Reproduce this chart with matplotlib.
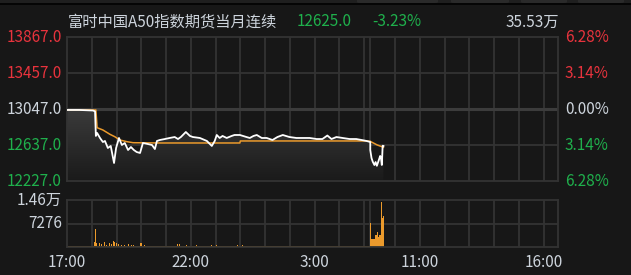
"""
FTSE China A50 futures - intraday tick chart (night + day session)
Dark terminal style: price / average line on top, volume below.
"""

import matplotlib
matplotlib.use('Agg')
import matplotlib.pyplot as plt
import numpy as np
from matplotlib.colors import LinearSegmentedColormap
from matplotlib.patches import Rectangle, FancyBboxPatch

plt.rcParams['font.family'] = ['Noto Sans CJK SC', 'DejaVu Sans']
plt.rcParams['font.size'] = 11

# ============================================================================
# Data
# ============================================================================

title = '富时中国A50指数期货当月连续'
last_price = '12625.0'
last_change = '-3.23%'
total_volume = '35.53万'

prev_close = 13047
price_levels = [13867, 13457, 13047, 12637, 12227]
pct_labels = ['6.28%', '3.14%', '0.00%', '3.14%', '6.28%']

vol_levels = [14552, 7276]
vol_labels = ['1.46万', '7276']

time_ticks = ['17:00', '22:00', '03:00', '11:00', '16:00']

price_times = ['17:00', '17:30', '18:03', '18:08', '18:10', '18:13', '18:20', '18:27',
               '18:32', '18:39', '18:46', '18:54', '18:59', '19:06', '19:13', '19:20',
               '19:28', '19:35', '19:42', '19:49', '19:57', '20:04', '20:16', '20:26',
               '20:33', '20:38', '20:45', '20:57', '21:09', '21:21', '21:29', '21:36',
               '21:48', '21:58', '22:05', '22:22', '22:39', '22:51', '22:58', '23:03',
               '23:10', '23:17', '23:27', '23:39', '23:46', '23:59', '00:15', '00:23',
               '00:32', '00:40', '00:52', '01:04', '01:18', '01:30', '01:43', '01:59',
               '02:16', '02:31', '02:48', '03:05', '03:19', '03:31', '03:41', '03:53',
               '04:08', '04:25', '04:41', '04:54', '05:06', '05:15',
               '09:00', '09:03', '09:06', '09:10', '09:13', '09:16', '09:20', '09:24',
               '09:26', '09:28', '09:30', '09:32']
price_values = [13036, 13036, 13030, 13020, 12740, 12774, 12717, 12671,
                12683, 12603, 12626, 12432, 12603, 12717, 12637, 12660,
                12580, 12614, 12580, 12557, 12546, 12660, 12648, 12637,
                12591, 12683, 12694, 12705, 12717, 12728, 12705, 12728,
                12785, 12740, 12728, 12717, 12683, 12626, 12683, 12751,
                12717, 12740, 12717, 12740, 12751, 12751, 12728, 12717,
                12740, 12751, 12717, 12717, 12694, 12728, 12751, 12728,
                12717, 12717, 12717, 12705, 12705, 12745, 12705, 12728,
                12717, 12705, 12705, 12694, 12683, 12671,
                12580, 12489, 12447, 12409, 12443, 12400, 12455, 12512,
                12489, 12409, 12629, 12625]

avg_times = ['17:00', '18:10', '18:13', '18:27', '18:44', '18:56', '19:08', '19:25',
             '19:40', '20:45', '23:59', '00:00', '05:06', '05:15', '09:00', '09:17', '09:32']
avg_values = [13036, 13036, 12834, 12808, 12759, 12731, 12694, 12675,
              12663, 12660, 12660, 12683, 12683, 12680, 12678, 12637, 12611]

# night session volume spikes
night_vol_times = ['18:06', '18:09', '18:12', '18:18', '18:24', '18:30', '18:36', '18:42',
                   '18:48', '18:52', '18:56', '19:00', '19:06', '19:12', '19:20', '19:28',
                   '19:36', '19:40', '19:58', '20:00', '20:09', '21:29', '21:33', '21:50',
                   '22:14', '22:50', '23:02', '23:54', '00:06']
night_vol_values = [1500, 5700, 1300, 1300, 900, 1400, 700, 1300,
                    900, 1800, 1400, 1200, 900, 600, 600, 900,
                    600, 700, 1100, 1100, 600, 900, 800, 700,
                    700, 700, 600, 600, 500]
night_base_volume = 420

# day session volume (step)
day_vol_times = ['09:00', '09:02', '09:12', '09:16', '09:18', '09:22', '09:25',
                 '09:26', '09:28', '09:30', '09:33']
day_vol_values = [7300, 2600, 3600, 4500, 3000, 3600, 2600,
                  14000, 8850, 9650, 9650]

# ============================================================================
# Compressed session time axis: 17:00-05:15, then 09:00-16:35
# ============================================================================

NIGHT_LEN = 12.25
DAY_LEN = 7 + 35 / 60


def to_x(t):
    hh, mm = t.split(':')
    h = int(hh) + int(mm) / 60
    if h >= 17:
        return h - 17
    if h < 9:
        return h + 7
    return NIGHT_LEN + (h - 9)


BG = '#171717'
GRID = '#333333'
RED = '#e8333d'
GREEN = '#1fb04c'
LIGHT = '#cdd4dc'
ORANGE = '#eb9a2c'

fig = plt.figure(figsize=(6.31, 2.75), dpi=100, facecolor=BG)

# top toolbar strip
fig.patches.append(Rectangle((0, 1 - 3.5 / 275), 1, 3.5 / 275, transform=fig.transFigure,
                             facecolor='#1f1f1f', edgecolor='none'))
fig.patches.append(Rectangle((0, 1 - 5 / 275), 1, 1.5 / 275, transform=fig.transFigure,
                             facecolor='#050505', edgecolor='none'))
for x0, x1 in [(357, 438), (451, 509), (521, 567), (578, 624)]:
    fig.patches.append(FancyBboxPatch((x0 / 631, 1 - 3 / 275), (x1 - x0) / 631, 4 / 275,
                                      boxstyle='round,pad=0,rounding_size=0.004',
                                      transform=fig.transFigure,
                                      facecolor='#2a2a2a', edgecolor='none'))

ax = fig.add_axes([67 / 631, 1 - 181 / 275, 491 / 631, 144 / 275], facecolor=BG)
axv = fig.add_axes([67 / 631, 1 - 247 / 275, 491 / 631, 47 / 275], facecolor=BG)

grid_x = [float(h) for h in range(1, 13)] + [NIGHT_LEN] + \
         [NIGHT_LEN + h for h in range(1, 8)]

for a in (ax, axv):
    for sp in a.spines.values():
        sp.set_color(GRID)
        sp.set_linewidth(1.3)
    a.set_xticks([])
    a.set_yticks([])
    for gx in grid_x:
        a.axvline(gx, color=GRID, lw=1.3, zorder=0)
    a.set_xlim(0, NIGHT_LEN + DAY_LEN)

# ============================================================================
# Price panel
# ============================================================================

px = np.array([to_x(t) for t in price_times])
pv = np.array(price_values)
ymin, ymax = price_levels[-1], price_levels[0]

for lvl in price_levels[1:-1]:
    ax.axhline(lvl, color='#3c3c3c' if lvl == prev_close else GRID,
               lw=2.2 if lvl == prev_close else 1.3, zorder=0)

# gray gradient under the price line
grad = np.linspace(0, 1, 256).reshape(-1, 1)
cmap = LinearSegmentedColormap.from_list('fade', ['#1a1a1a', '#3b3b3b'])
img = ax.imshow(grad, extent=[px[0], px[-1], ymin, prev_close], origin='lower',
                aspect='auto', cmap=cmap, zorder=1)
fill = ax.fill_between(px, pv, ymin, facecolor='none', edgecolor='none')
img.set_clip_path(fill.get_paths()[0], transform=ax.transData)

ax.plot([to_x(t) for t in avg_times], avg_values, color=ORANGE, lw=1.1, zorder=3)
ax.plot(px, pv, color='white', lw=1.3, zorder=4)

ax.set_xlim(0, NIGHT_LEN + DAY_LEN)
ax.set_ylim(ymin, ymax)

ytr = ax.get_yaxis_transform()
for lvl, pct in zip(price_levels, pct_labels):
    if lvl > prev_close:
        c = RED
    elif lvl < prev_close:
        c = GREEN
    else:
        c = LIGHT
    ax.text(-5 / 491, lvl, f'{lvl:.1f}', transform=ytr, ha='right', va='center',
            color=c, fontsize=11, clip_on=False)
    ax.text(1 + 7 / 491, lvl, pct, transform=ytr, ha='left', va='center',
            color=c, fontsize=11, clip_on=False)

# ============================================================================
# Volume panel
# ============================================================================

axv.axhline(vol_levels[1], color=GRID, lw=1.3, zorder=0)
axv.fill_between([0, NIGHT_LEN], 0, night_base_volume, color=ORANGE, lw=0, zorder=2)
axv.bar([to_x(t) for t in night_vol_times], night_vol_values, width=0.04,
        color=ORANGE, lw=0, zorder=2)
axv.fill_between([to_x(t) for t in day_vol_times], day_vol_values, 0,
                 step='post', color=ORANGE, lw=0, zorder=2)
axv.set_ylim(0, vol_levels[0])
axv.set_xlim(0, NIGHT_LEN + DAY_LEN)

vtr = axv.get_yaxis_transform()
for lvl, lab in zip(vol_levels, vol_labels):
    axv.text(-5 / 491, lvl, lab, transform=vtr, ha='right', va='center',
             color=LIGHT, fontsize=11, clip_on=False)

xtr = axv.get_xaxis_transform()
for t in time_ticks:
    axv.text(to_x(t), -15.5 / 47, t.lstrip('0') if t.startswith('0') else t,
             transform=xtr, ha='center', va='center', color=LIGHT, fontsize=11,
             clip_on=False)

# ============================================================================
# Header
# ============================================================================

hy = 1 - 22 / 275
fig.text(68 / 631, hy, title, ha='left', va='center', color=LIGHT, fontsize=11)
fig.text(297 / 631, hy, last_price, ha='left', va='center', color=GREEN, fontsize=11)
fig.text(372 / 631, hy, last_change, ha='left', va='center', color=GREEN, fontsize=11)
fig.text(559 / 631, hy, total_volume, ha='right', va='center', color=LIGHT, fontsize=11)

fig.savefig('out.png', dpi=100, facecolor=BG)
